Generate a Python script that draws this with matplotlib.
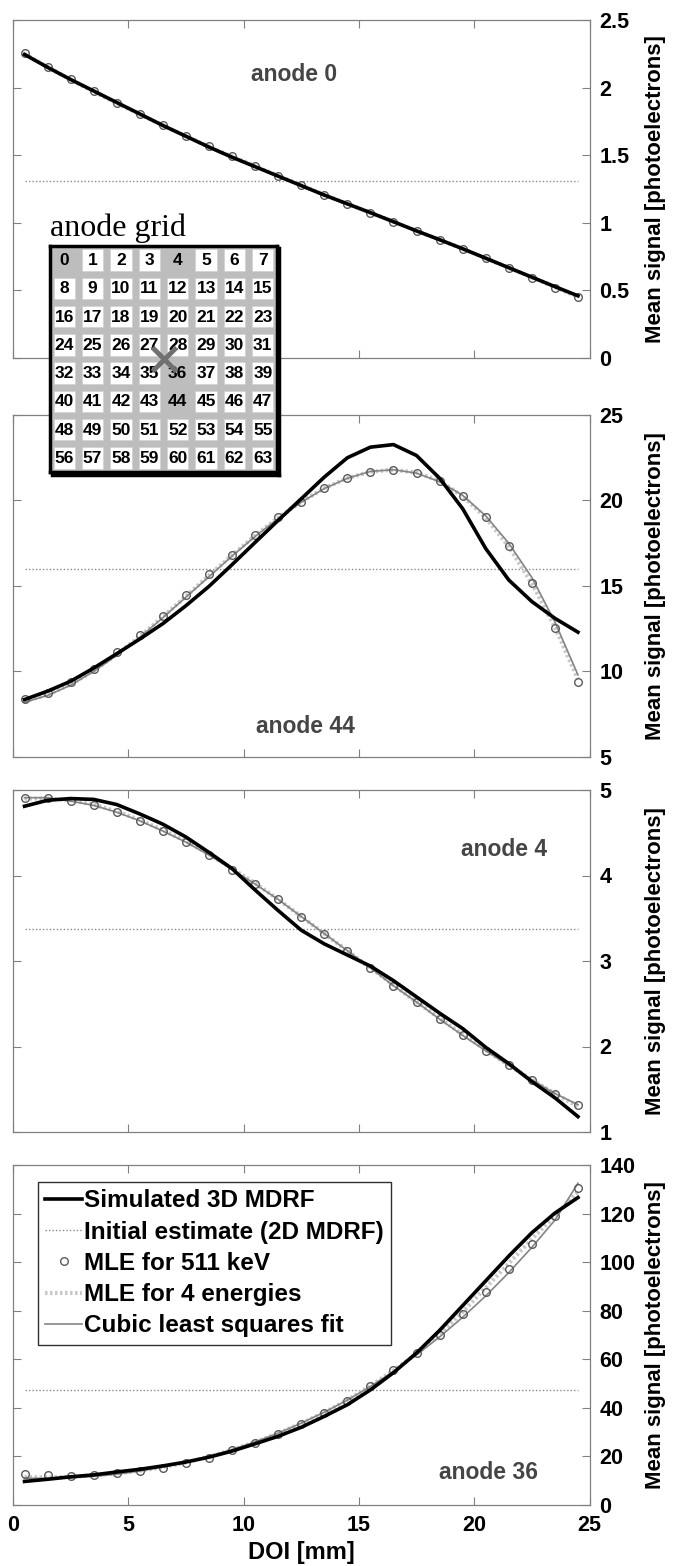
import matplotlib
matplotlib.use('Agg')
import matplotlib.pyplot as plt
from matplotlib.patches import Rectangle
from matplotlib.lines import Line2D

plt.rcParams['font.family'] = ['Liberation Sans', 'DejaVu Sans']

# ---------------- data ----------------
doi = [0.5, 1.5, 2.5, 3.5, 4.5, 5.5, 6.5, 7.5, 8.5, 9.5, 10.5, 11.5, 12.5,
       13.5, 14.5, 15.5, 16.5, 17.5, 18.5, 19.5, 20.5, 21.5, 22.5, 23.5, 24.5]

# anode 0
a0_sim = [2.245, 2.150, 2.060, 1.975, 1.890, 1.805, 1.720, 1.640, 1.560, 1.485,
          1.415, 1.345, 1.275, 1.205, 1.140, 1.075, 1.008, 0.940, 0.875, 0.808,
          0.738, 0.668, 0.598, 0.528, 0.460]
a0_mle = [2.258, 2.156, 2.064, 1.974, 1.887, 1.805, 1.722, 1.642, 1.565, 1.492,
          1.422, 1.349, 1.279, 1.209, 1.141, 1.076, 1.008, 0.940, 0.875, 0.807,
          0.736, 0.664, 0.594, 0.521, 0.453]
a0_mle4 = [2.250, 2.152, 2.058, 1.970, 1.884, 1.802, 1.720, 1.640, 1.563, 1.490,
           1.420, 1.348, 1.278, 1.208, 1.140, 1.075, 1.008, 0.941, 0.875, 0.808,
           0.738, 0.667, 0.596, 0.524, 0.452]
a0_fit = [2.245, 2.152, 2.062, 1.974, 1.888, 1.804, 1.722, 1.642, 1.564, 1.490,
          1.418, 1.348, 1.278, 1.208, 1.140, 1.074, 1.007, 0.940, 0.874, 0.807,
          0.739, 0.669, 0.599, 0.527, 0.455]
a0_init = 1.31

# anode 44
a44_sim = [8.36, 8.85, 9.43, 10.20, 11.04, 11.90, 12.80, 13.85, 14.98, 16.25,
           17.55, 18.84, 20.10, 21.37, 22.50, 23.12, 23.27, 22.63, 21.30, 19.52,
           17.19, 15.35, 14.09, 13.11, 12.30]
a44_mle = [8.42, 8.75, 9.37, 10.17, 11.12, 12.13, 13.27, 14.48, 15.68, 16.84,
           18.01, 19.04, 19.93, 20.73, 21.29, 21.66, 21.78, 21.62, 21.14, 20.24,
           19.02, 17.33, 15.19, 12.53, 9.39]
a44_mle4 = [8.25, 8.65, 9.25, 10.05, 11.00, 12.05, 13.20, 14.40, 15.62, 16.80,
            17.95, 19.00, 19.92, 20.72, 21.30, 21.68, 21.80, 21.63, 21.15, 20.25,
            19.00, 17.30, 15.15, 12.60, 9.55]
a44_fit = [8.20, 8.60, 9.20, 10.00, 10.95, 12.00, 13.15, 14.35, 15.55, 16.75,
           17.90, 18.95, 19.90, 20.70, 21.30, 21.70, 21.80, 21.60, 21.10, 20.30,
           19.10, 17.50, 15.50, 12.90, 9.80]
a44_init = 15.97

# anode 4
a4_sim = [4.81, 4.88, 4.90, 4.89, 4.83, 4.72, 4.60, 4.45, 4.27, 4.08,
          3.83, 3.59, 3.36, 3.20, 3.07, 2.94, 2.77, 2.58, 2.39, 2.21,
          1.99, 1.80, 1.59, 1.40, 1.18]
a4_mle = [4.91, 4.91, 4.87, 4.82, 4.74, 4.64, 4.52, 4.39, 4.24, 4.07,
          3.90, 3.72, 3.52, 3.32, 3.12, 2.92, 2.71, 2.52, 2.32, 2.13,
          1.95, 1.78, 1.61, 1.45, 1.32]
a4_mle4 = [4.90, 4.90, 4.88, 4.83, 4.75, 4.65, 4.53, 4.40, 4.25, 4.08,
           3.91, 3.72, 3.52, 3.32, 3.12, 2.92, 2.72, 2.52, 2.33, 2.14,
           1.96, 1.78, 1.61, 1.45, 1.30]
a4_fit = [4.91, 4.91, 4.87, 4.82, 4.74, 4.64, 4.52, 4.39, 4.24, 4.07,
          3.90, 3.72, 3.52, 3.32, 3.12, 2.92, 2.71, 2.52, 2.32, 2.13,
          1.95, 1.78, 1.61, 1.45, 1.32]
a4_init = 3.38

# anode 36
a36_sim = [9.7, 10.6, 11.6, 12.4, 13.6, 14.7, 16.1, 17.7, 19.7, 22.2,
           25.2, 28.3, 32.0, 36.5, 41.3, 47.4, 54.5, 62.6, 71.9, 82.1,
           92.3, 102.5, 112.1, 120.2, 126.6]
a36_mle = [12.7, 12.3, 12.0, 12.4, 13.1, 14.0, 15.4, 17.2, 19.5, 22.5,
           25.6, 29.3, 33.5, 37.9, 43.0, 49.0, 55.6, 62.6, 70.1, 78.7,
           87.6, 97.1, 107.6, 118.9, 130.7]
a36_mle4 = [11.5, 11.4, 11.6, 12.2, 13.0, 14.1, 15.6, 17.5, 19.9, 22.7,
            25.9, 29.5, 33.6, 38.1, 43.2, 49.0, 55.4, 62.4, 70.3, 79.5,
            89.5, 99.5, 109.5, 119.0, 129.0]
a36_fit = [11.0, 11.0, 11.2, 11.8, 12.7, 14.0, 15.6, 17.6, 20.0, 22.8,
           26.0, 29.6, 33.7, 38.2, 43.2, 48.8, 55.0, 61.8, 69.2, 77.3,
           86.1, 95.7, 106.1, 117.3, 132.5]
a36_init = 47.4

panel_names = ['anode 0', 'anode 44', 'anode 4', 'anode 36']
x_ticks = [0, 5, 10, 15, 20, 25]
y_ticks = [[0, 0.5, 1, 1.5, 2, 2.5], [5, 10, 15, 20, 25], [1, 2, 3, 4, 5],
           [0, 20, 40, 60, 80, 100, 120, 140]]
y_ticklabels = [['0', '0.5', '1', '1.5', '2', '2.5'], ['5', '10', '15', '20', '25'],
                ['1', '2', '3', '4', '5'],
                ['0', '20', '40', '60', '80', '100', '120', '140']]
legend_labels = ['Simulated 3D MDRF', 'Initial estimate (2D MDRF)', 'MLE for 511 keV',
                 'MLE for 4 energies', 'Cubic least squares fit']
grid_numbers = list(range(64))
grid_highlight = [0, 4, 36, 44]

panels = [
    (a0_sim, a0_mle, a0_mle4, a0_fit, a0_init),
    (a44_sim, a44_mle, a44_mle4, a44_fit, a44_init),
    (a4_sim, a4_mle, a4_mle4, a4_fit, a4_init),
    (a36_sim, a36_mle, a36_mle4, a36_fit, a36_init),
]

# ---------------- layout ----------------
W, H = 677, 1566
fig = plt.figure(figsize=(W / 100, H / 100), dpi=100)

def fbox(l, t, r, b):
    return [l / W, 1 - b / H, (r - l) / W, (b - t) / H]

AX_L, AX_R = 13, 589.5
ax_px = [(20, 358), (415, 757), (790, 1132), (1165, 1505)]
label_pos = [(12.2, 2.10), (12.7, 6.8), (21.3, 4.30), (20.6, 13.2)]
ylims = [(0, 2.5), (5, 25), (1, 5), (0, 140)]

SPINE = '#808080'
C_SIM = 'black'
C_INIT = '#8a8a8a'
C_MLE = '#5a5a5a'
C_MLE4 = '#c8c8c8'
C_FIT = '#858585'

axes = []
for i, (t, b) in enumerate(ax_px):
    ax = fig.add_axes(fbox(AX_L, t, AX_R, b))
    sim, mle, mle4, fit, init = panels[i]
    ax.plot(doi, [init] * len(doi), color=C_INIT, lw=1.0, ls=(0, (1, 1.5)), zorder=1)
    ax.plot(doi, mle4, color=C_MLE4, lw=3.0, ls=(0, (0.6, 0.6)), zorder=2)
    ax.plot(doi, fit, color=C_FIT, lw=1.2, zorder=3)
    ax.plot(doi, mle, ls='none', marker='o', ms=5.5, mfc='none', mec=C_MLE, mew=1.0, zorder=4)
    ax.plot(doi, sim, color=C_SIM, lw=2.6, zorder=5)
    ax.set_xlim(0, 25)
    ax.set_ylim(*ylims[i])
    ax.set_xticks(x_ticks)
    ax.set_yticks(y_ticks[i])
    ax.set_yticklabels(y_ticklabels[i])
    ax.tick_params(axis='both', direction='in', length=6, width=0.8, color=SPINE,
                   top=True, bottom=True, left=True, right=True,
                   labelleft=False, labelright=True, labelsize=15.5, pad=7)
    for lab in ax.get_yticklabels() + ax.get_xticklabels():
        lab.set_fontweight('bold')
    if i < 3:
        ax.tick_params(axis='x', labelbottom=False)
    for s in ax.spines.values():
        s.set_color(SPINE)
        s.set_linewidth(0.9)
    ax.yaxis.set_label_position('right')
    ylab = ax.set_ylabel('Mean signal [photoelectrons]', fontsize=16, fontweight='bold')
    ax.yaxis.set_label_coords((655 - AX_L) / (AX_R - AX_L), 0.5)
    ylab.set_va('center')
    ax.text(label_pos[i][0], label_pos[i][1], panel_names[i], ha='center', va='center',
            fontsize=16.5, fontweight='bold', color='#454545')
    axes.append(ax)

axes[3].set_xlabel('DOI [mm]', fontsize=17, fontweight='bold', labelpad=4)

# legend
handles = [
    Line2D([], [], color=C_SIM, lw=2.6),
    Line2D([], [], color=C_INIT, lw=1.0, ls=(0, (1, 1.5))),
    Line2D([], [], ls='none', marker='o', ms=5.5, mfc='none', mec=C_MLE, mew=1.0),
    Line2D([], [], color=C_MLE4, lw=3.0, ls=(0, (0.6, 0.6))),
    Line2D([], [], color=C_FIT, lw=1.2),
]
leg = axes[3].legend(handles, legend_labels, loc='upper left',
                     bbox_to_anchor=(38 / W, 1 - 1182 / H), bbox_transform=fig.transFigure,
                     borderaxespad=0, fancybox=False, frameon=True, edgecolor='#303030',
                     framealpha=1, prop={'weight': 'bold', 'size': 17.5},
                     handlelength=1.5, handletextpad=0.1, labelspacing=0.34,
                     borderpad=0.3)
leg.get_frame().set_linewidth(1.0)

# anode grid inset
gax = fig.add_axes(fbox(50, 246, 277, 472), zorder=10)
gax.set_xlim(0, 8)
gax.set_ylim(8, 0)
gax.set_facecolor('#bdbdbd')
gax.set_xticks([])
gax.set_yticks([])
for s in gax.spines.values():
    s.set_color('black')
    s.set_linewidth(2.5)
for n in grid_numbers:
    r, c = divmod(n, 8)
    if n not in grid_highlight:
        gax.add_patch(Rectangle((c + 0.125, r + 0.12), 0.75, 0.76, facecolor='white',
                                edgecolor='#d0d0d0', lw=0.5))
    gax.text(c + 0.5, r + 0.52, str(n), ha='center', va='center', fontsize=12.5,
             fontweight='bold', color='black')
gax.plot([4], [4], marker='x', ms=17, mew=3.5, color='#707070', zorder=5)
# shadow on right / bottom edge of the frame
fig.add_artist(Line2D([279 / W, 279 / W], [1 - 248 / H, 1 - 474.5 / H], color='black', lw=2.5,
                      transform=fig.transFigure, zorder=11))
fig.add_artist(Line2D([52 / W, 279 / W], [1 - 474.5 / H, 1 - 474.5 / H], color='black', lw=2.5,
                      transform=fig.transFigure, zorder=11))
fig.text(50 / W, 1 - 236 / H, 'anode grid', ha='left', va='baseline', fontsize=23,
         family=['Liberation Serif', 'DejaVu Serif'], color='black', zorder=12)

fig.savefig('out.png', dpi=100)
